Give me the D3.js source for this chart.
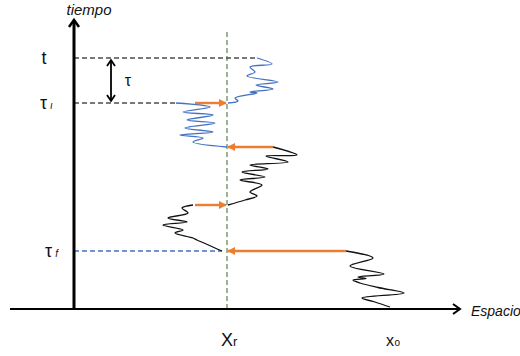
<!DOCTYPE html>
<html>
<head>
<meta charset="utf-8">
<script src="https://cdn.jsdelivr.net/npm/d3@7"></script>
<style>
  html, body { margin: 0; padding: 0; background: #fff; }
  svg { display: block; }
  text { font-family: "Liberation Sans", "DejaVu Sans", sans-serif; fill: #111; }
</style>
</head>
<body>
<div id="chart"></div>
<script>
// Space (x) and time (t) coordinates of a reflected random walk.
const xReflect = 38.25;   // position of the reflecting barrier X_r
const xStart = 79;        // starting position x0
const tFinal = 100.4;     // observation time t
const tauI = 82.4;        // τι
const tauF = 23.2;        // τf
const tauMid1 = 41.6;     // intermediate barrier crossings
const tauMid2 = 64.8;

// Walk segments, listed from earliest to latest time: [x, t]
const walkBottom = [[79, 0.8], [75.25, 2.8], [72, 4.4], [82.5, 6.4], [76, 8.6], [71.5, 10.4], [69.75, 11.6],
  [73, 12.2], [71, 12.8], [77.5, 14], [69, 17.2], [74.75, 20.4], [68, 23.2]];
const walkLowLeft = [[37, 23.2], [30.75, 27.6], [29.75, 28.4], [25.25, 30.4], [27.25, 31.6], [22.25, 33.6],
  [28.25, 34.8], [23.5, 36.4], [28.5, 38.4], [27, 40.4], [29.75, 41.6]];
const walkMiddle = [[38.5, 41.6], [42.75, 43.6], [45.75, 45.2], [44, 46.8], [47, 49.6], [41.5, 51.6],
  [47.75, 52.8], [42, 54.8], [48.5, 56], [44, 57.6], [53.5, 58.8], [48, 61.2], [55.75, 61.6], [49.75, 64.8]];
const walkBlueLow = [[38.25, 64.8], [29.75, 66.8], [32.25, 68.4], [26.5, 69.6], [34.75, 70.8], [27.75, 72.4],
  [35.25, 74.4], [28.25, 75.6], [34.75, 77.6], [27.25, 78.8], [34, 80.8], [25.5, 82.4]];
const walkBlueHigh = [[38.5, 82.4], [41, 83.2], [40.25, 84.4], [45.75, 86.4], [44, 86.8], [49.75, 88],
  [45.5, 89.6], [51, 90.8], [43.25, 93.2], [45.25, 94.8], [44, 96.8], [49.5, 98], [45.75, 100.4]];

// Jumps to the barrier: [from x, to x, t]
const jumps = [[68, 38.25, tauF], [30.25, 38.25, tauMid1], [49.75, 38.25, tauMid2], [30.25, 38.25, tauI]];

// Horizontal guide lines: [end x, t, colour]
const guides = [[45.75, tFinal, "#4d4d4d"], [25.5, tauI, "#4d4d4d"], [37, tauF, "#4472C4"]];

const W = 520, H = 356;
const svg = d3.select("#chart").append("svg").attr("width", W).attr("height", H);

const x = d3.scaleLinear().domain([0, 100]).range([74, 474]);
const y = d3.scaleLinear().domain([0, 100]).range([309, 59]);

const defs = svg.append("defs");
defs.append("marker").attr("id", "orangeHead")
  .attr("viewBox", "0 0 10 10").attr("refX", 9).attr("refY", 5)
  .attr("markerWidth", 3.4).attr("markerHeight", 3.4).attr("orient", "auto")
  .append("path").attr("d", "M0,0L10,5L0,10Z").attr("fill", "#ED7D31");

// Vertical barrier line at X_r
svg.append("line")
  .attr("x1", x(xReflect)).attr("x2", x(xReflect))
  .attr("y1", y(110.8)).attr("y2", y(0))
  .attr("stroke", "#56743a").attr("stroke-width", 1.1).attr("stroke-dasharray", "5,3");

// Horizontal dashed guides
svg.selectAll("line.guide").data(guides).join("line").attr("class", "guide")
  .attr("x1", x(0)).attr("x2", d => x(d[0]))
  .attr("y1", d => y(d[1])).attr("y2", d => y(d[1]))
  .attr("stroke", d => d[2]).attr("stroke-width", 1.3).attr("stroke-dasharray", "5,3");

// Walk paths
const line = d3.line().x(d => x(d[0])).y(d => y(d[1])).curve(d3.curveCatmullRom.alpha(0.5));
const walks = [[walkBottom, "#111"], [walkLowLeft, "#111"], [walkMiddle, "#111"],
  [walkBlueLow, "#4472C4"], [walkBlueHigh, "#4472C4"]];
svg.selectAll("path.walk").data(walks).join("path").attr("class", "walk")
  .attr("d", d => line(d[0])).attr("fill", "none")
  .attr("stroke", d => d[1]).attr("stroke-width", 1.3).attr("stroke-linejoin", "round");

// Jumps onto the barrier
svg.selectAll("line.jump").data(jumps).join("line").attr("class", "jump")
  .attr("x1", d => x(d[0])).attr("x2", d => x(d[1]) + (d[0] > d[1] ? 1 : -1))
  .attr("y1", d => y(d[2])).attr("y2", d => y(d[2]))
  .attr("stroke", "#ED7D31").attr("stroke-width", 2.4)
  .attr("marker-end", "url(#orangeHead)");

// Axes
const xAxisLeft = -16, xAxisRight = 96.5, tAxisTop = 115.6;
svg.append("line").attr("x1", x(xAxisLeft)).attr("x2", x(xAxisRight))
  .attr("y1", y(0)).attr("y2", y(0)).attr("stroke", "#000").attr("stroke-width", 2);
svg.append("path")
  .attr("d", `M${x(xAxisRight) - 7},${y(0) - 5}L${x(xAxisRight)},${y(0)}L${x(xAxisRight) - 7},${y(0) + 5}`)
  .attr("fill", "none").attr("stroke", "#000").attr("stroke-width", 2);
svg.append("line").attr("x1", x(0)).attr("x2", x(0))
  .attr("y1", y(0) + 1).attr("y2", y(tAxisTop)).attr("stroke", "#000").attr("stroke-width", 3);
svg.append("path")
  .attr("d", `M${x(0) - 5},${y(tAxisTop) + 7}L${x(0)},${y(tAxisTop)}L${x(0) + 5},${y(tAxisTop) + 7}`)
  .attr("fill", "none").attr("stroke", "#000").attr("stroke-width", 2.5);

// τ interval double arrow
const xTauArrow = 9.25;
const dblY1 = y(tFinal) + 2, dblY2 = y(tauI) - 2, dx = x(xTauArrow);
svg.append("line").attr("x1", dx).attr("x2", dx).attr("y1", dblY1).attr("y2", dblY2)
  .attr("stroke", "#000").attr("stroke-width", 1.8);
svg.append("path")
  .attr("d", `M${dx - 4},${dblY1 + 6}L${dx},${dblY1}L${dx + 4},${dblY1 + 6}M${dx - 4},${dblY2 - 6}L${dx},${dblY2}L${dx + 4},${dblY2 - 6}`)
  .attr("fill", "none").attr("stroke", "#000").attr("stroke-width", 1.8);

// Labels
svg.append("text").attr("x", x(0) + 15).attr("y", 15).attr("text-anchor", "middle")
  .attr("font-style", "italic").attr("font-size", 15).text("tiempo");
svg.append("text").attr("x", 471).attr("y", y(0) + 7)
  .attr("font-style", "italic").attr("font-size", 14).text("Espacio");
svg.append("text").attr("x", 44).attr("y", y(tFinal) + 6).attr("text-anchor", "middle")
  .attr("font-size", 18).text("t");
const lblI = svg.append("text").attr("x", 40).attr("y", y(tauI) + 6).attr("font-size", 18);
lblI.append("tspan").text("τ");
lblI.append("tspan").attr("dx", 3).attr("font-size", 10).attr("font-style", "italic").text("ι");
const lblF = svg.append("text").attr("x", 45).attr("y", y(tauF) + 6).attr("font-size", 18);
lblF.append("tspan").text("τ");
lblF.append("tspan").attr("dx", 3).attr("font-size", 10).attr("font-style", "italic").text("f");
svg.append("text").attr("x", x(xTauArrow) + 17).attr("y", (y(tFinal) + y(tauI)) / 2 + 5)
  .attr("text-anchor", "middle").attr("font-size", 16).text("τ");
const lblXr = svg.append("text").attr("x", x(xReflect) - 6).attr("y", 346).attr("font-size", 18);
lblXr.append("tspan").text("X");
lblXr.append("tspan").attr("font-size", 13).text("r");
const lblX0 = svg.append("text").attr("x", x(xStart) - 4).attr("y", 346).attr("font-size", 16);
lblX0.append("tspan").text("x");
lblX0.append("tspan").attr("font-size", 10).attr("dx", 0.5).text("o");
</script>
</body>
</html>
